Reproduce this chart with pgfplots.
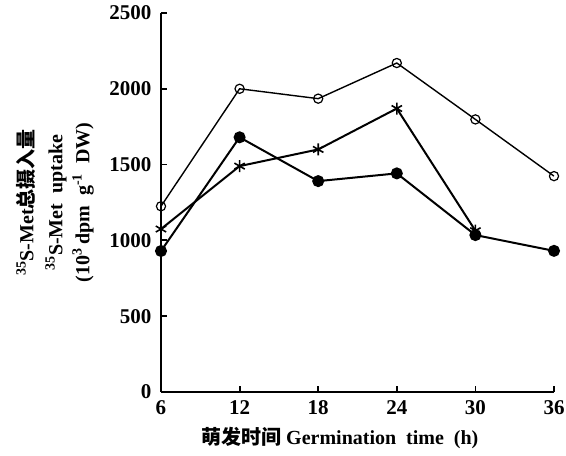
\documentclass[border=0pt]{standalone}
\usepackage{fontspec}
\setmainfont{Liberation Serif}
\newfontfamily\cjk{Noto Sans CJK SC}
\usepackage{pgfplots}
\pgfplotsset{compat=1.18}

\begin{document}
\begin{tikzpicture}
\begin{axis}[
  scale only axis, width=393pt, height=379pt,
  xmin=6, xmax=36, ymin=0, ymax=2500,
  axis x line*=bottom, axis y line*=left,
  axis line style={line width=2.2pt, -},
  xtick={6,12,18,24,30,36}, ytick={0,500,1000,1500,2000,2500},
  tick align=inside, major tick length=6pt,
  tick style={line width=1.8pt, black},
  every tick label/.append style={font=\fontsize{21}{22}\selectfont\bfseries},
  /pgf/number format/assume math mode=true,
  /pgf/number format/1000 sep={},
  xticklabel style={yshift=-5pt},
  yticklabel style={xshift=-6pt},
  xlabel={{\cjk\bfseries 萌发时间} Germination\ \ time\ \ (h)},
  xlabel style={font=\fontsize{20}{22}\selectfont\bfseries, at={(axis description cs:0.455,0)}, anchor=north, yshift=-32pt},
  ylabel={\textsuperscript{35}S-Met{\cjk\bfseries 总摄入量}\\ \textsuperscript{35}S-Met\ \ uptake\\[-2pt] (10\textsuperscript{3}\,dpm\ \ g\textsuperscript{-1}\ \ DW)},
  ylabel style={font=\fontsize{20}{29}\selectfont\bfseries, align=center, at={(axis description cs:-0.27,0.5)}, anchor=center, rotate=0},
]
\addplot[line width=1.4pt, mark=o, mark size=4.6pt, mark options={line width=1.2pt, fill=white}]
  coordinates {(6,1225) (12,2000) (18,1935) (24,2170) (30,1798) (36,1424)};
\addplot[line width=2pt, mark=asterisk, mark size=6pt, mark options={line width=1.6pt}]
  coordinates {(6,1075) (12,1490) (18,1600) (24,1870) (30,1064)};
\addplot[line width=2pt, mark=*, mark size=5pt, mark options={fill=black}]
  coordinates {(6,930) (12,1680) (18,1391) (24,1442) (30,1035) (36,931)};
\coordinate (bl) at (rel axis cs:0,0);
\coordinate (tr) at (rel axis cs:1,1);
\end{axis}
\pgfresetboundingbox
\path ([xshift=-161pt,yshift=-64pt]bl) rectangle ([xshift=12pt,yshift=13pt]tr);
\end{tikzpicture}
\end{document}
